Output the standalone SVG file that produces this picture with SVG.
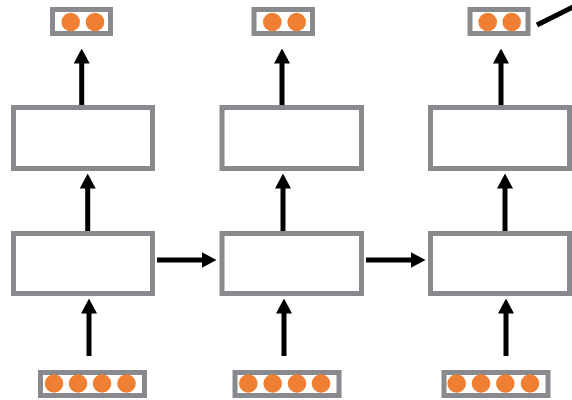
<svg xmlns="http://www.w3.org/2000/svg" width="572" height="400" viewBox="0 0 572 400">
<style>
.box{fill:#fff;stroke:#888a8d;stroke-width:5}
.dot{fill:#ef8033}
.arr{stroke:#000;stroke-width:5;fill:none;marker-end:url(#ah)}
</style>
<defs>
<marker id="ah" viewBox="0 0 15 16" markerWidth="15" markerHeight="16" markerUnits="userSpaceOnUse" refX="0.5" refY="8" orient="auto">
<path d="M0,0 L15,8 L0,16 z" fill="#000"/>
</marker>
</defs>
<rect width="572" height="400" fill="#fff"/>
<g id="connectors">
<line class="arr" x1="81.7" y1="106" x2="81.7" y2="63"/>
<line class="arr" x1="87.7" y1="232" x2="87.7" y2="188"/>
<line class="arr" x1="89" y1="356" x2="89" y2="313"/>
<line class="arr" x1="157" y1="260" x2="202" y2="260"/>
<line class="arr" x1="282" y1="106" x2="282" y2="63"/>
<line class="arr" x1="283" y1="232" x2="283" y2="188"/>
<line class="arr" x1="284" y1="356" x2="284" y2="313"/>
<line class="arr" x1="366" y1="260" x2="411" y2="260"/>
<line class="arr" x1="501" y1="106" x2="501" y2="63"/>
<line class="arr" x1="505" y1="232" x2="505" y2="188"/>
<line class="arr" x1="506" y1="356" x2="506" y2="313"/>
<line x1="537" y1="25" x2="573" y2="7" stroke="#000" stroke-width="5"/>
</g>
<g id="out1"><rect class="box" x="52.5" y="9.5" width="58" height="24"/><circle class="dot" cx="70.7" cy="22" r="9.3"/><circle class="dot" cx="95" cy="22" r="9.3"/></g>
<g id="out2"><rect class="box" x="254" y="9.5" width="58.5" height="24"/><circle class="dot" cx="272.3" cy="22" r="9.3"/><circle class="dot" cx="296.7" cy="22" r="9.3"/></g>
<g id="out3"><rect class="box" x="470" y="9.5" width="58" height="24"/><circle class="dot" cx="487.7" cy="22" r="9.3"/><circle class="dot" cx="511.7" cy="22" r="9.3"/></g>
<g id="top1"><rect class="box" x="13.5" y="107.5" width="139" height="61"/></g>
<g id="top2"><rect class="box" x="222" y="107.5" width="139.5" height="61"/></g>
<g id="top3"><rect class="box" x="430.5" y="107.5" width="139" height="61"/></g>
<g id="mid1"><rect class="box" x="13.5" y="233.5" width="139" height="60"/></g>
<g id="mid2"><rect class="box" x="222" y="233.5" width="139.5" height="60"/></g>
<g id="mid3"><rect class="box" x="430.5" y="233.5" width="139" height="60"/></g>
<g id="in1"><rect class="box" x="40.5" y="372.5" width="104" height="23"/><circle class="dot" cx="54" cy="383.5" r="9.3"/><circle class="dot" cx="78" cy="383.5" r="9.3"/><circle class="dot" cx="102" cy="383.5" r="9.3"/><circle class="dot" cx="126.5" cy="383.5" r="9.3"/></g>
<g id="in2"><rect class="box" x="235" y="372.5" width="104" height="23"/><circle class="dot" cx="248.3" cy="383.5" r="9.3"/><circle class="dot" cx="272.7" cy="383.5" r="9.3"/><circle class="dot" cx="297" cy="383.5" r="9.3"/><circle class="dot" cx="321" cy="383.5" r="9.3"/></g>
<g id="in3"><rect class="box" x="444" y="372.5" width="104" height="23"/><circle class="dot" cx="456.7" cy="383.5" r="9.3"/><circle class="dot" cx="481" cy="383.5" r="9.3"/><circle class="dot" cx="505.3" cy="383.5" r="9.3"/><circle class="dot" cx="530" cy="383.5" r="9.3"/></g>
</svg>
